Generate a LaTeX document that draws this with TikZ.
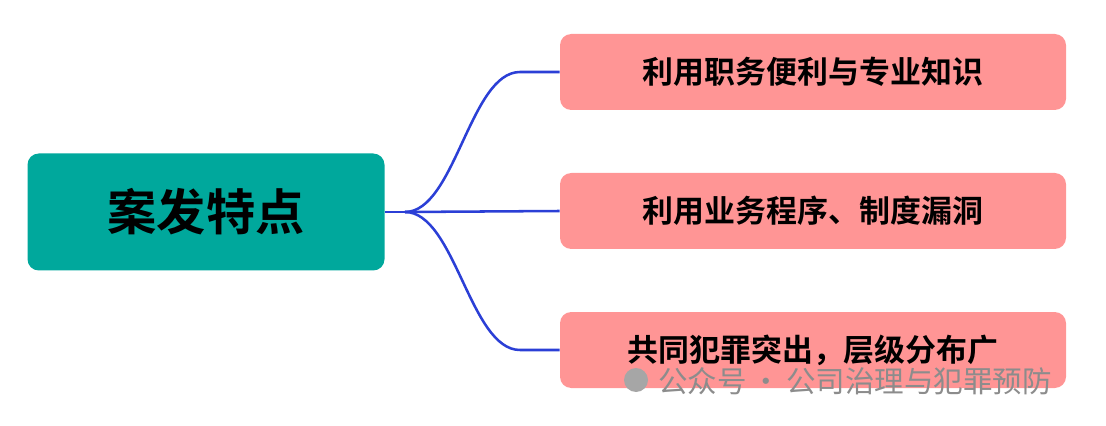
\documentclass[tikz,border=0pt]{standalone}
\usepackage{fontspec}
\newfontfamily\cjk{Noto Sans CJK SC}
\newfontfamily\cjkb{Noto Sans CJK SC Bold}
\usetikzlibrary{positioning}
\definecolor{rootteal}{HTML}{00A89C}
\definecolor{leafpink}{HTML}{FF9595}
\definecolor{linkblue}{HTML}{2B3FD6}
\tikzset{
  rootbox/.style={fill=rootteal,rounded corners=8pt,minimum width=357*0.025cm,minimum height=117*0.025cm,font=\cjkb\fontsize{35}{38}\selectfont},
  leafbox/.style={fill=leafpink,rounded corners=8pt,minimum width=506*0.025cm,minimum height=76*0.025cm,font=\cjkb\fontsize{22}{25}\selectfont},
  link/.style={draw=linkblue,line width=1.8pt}
}
\begin{document}
\begin{tikzpicture}[x=0.025cm,y=-0.025cm]
  \useasboundingbox (0,0) rectangle (1106,426);
  \node[rootbox] (root) at (206,212) {案发特点};
  \node[leafbox] (A) at (813,72) {利用职务便利与专业知识};
  \node[leafbox] (B) at (813,211) {利用业务程序、制度漏洞};
  \node[leafbox] (C) at (813,350) {共同犯罪突出，层级分布广};
  \coordinate (hub) at (405,212);

  \draw[link] (root.east) -- (hub);
  \draw[link] (hub) .. controls (455,212) and (470,72) .. (520,72) -- (A.west);
  \draw[link] (hub) -- (B.west);
  \draw[link] (hub) .. controls (455,212) and (470,350) .. (520,350) -- (C.west);

  \node[font=\cjk\fontsize{21}{23}\selectfont,text=black!45,anchor=west,inner sep=0pt] (mark) at (658,381) {公众号\,·\,公司治理与犯罪预防};
  \node[circle,fill=black!35,minimum size=24*0.025cm,inner sep=0pt] (icon) at (636,380) {};
\end{tikzpicture}
\end{document}
